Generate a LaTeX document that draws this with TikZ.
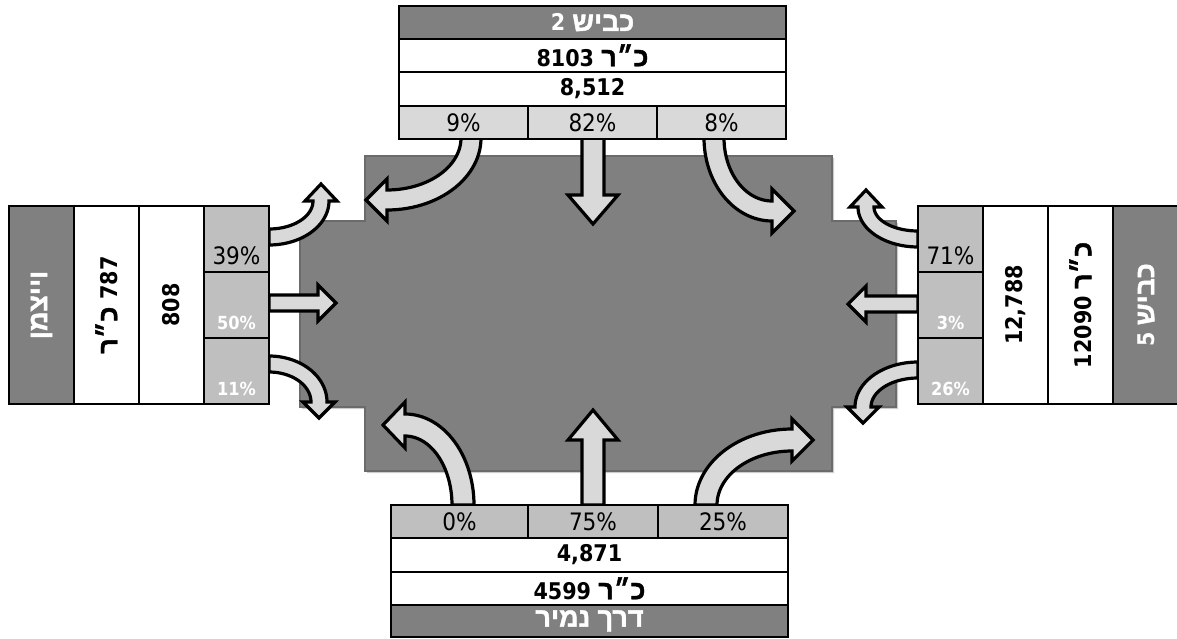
\documentclass[tikz,border=0pt]{standalone}
\usepackage{fontspec}
\setmainfont{DejaVu Sans Condensed}
\newfontfamily\hebfont[Script=Hebrew, Scale=1.17, BoldFeatures={FakeBold=1.6}]{Liberation Sans}
\TeXXeTstate=1
\usetikzlibrary{positioning}

\definecolor{roadgray}{RGB}{128,128,128}
\definecolor{pctlight}{RGB}{217,217,217}
\definecolor{pctmid}{RGB}{191,191,191}
\definecolor{flowfill}{RGB}{217,217,217}

% curved flow arrow: cx, cy, rx, ry, start angle, end angle, half shaft, half head, head length
\newcommand\turnarrow[9]{%
  \pgfmathsetmacro\tsgn{sign(#6-#5)}
  \draw[flow] plot[domain=#5:#6, samples=30, variable=\t] ({#1+(#3+#7)*cos(\t)}, {#2+(#4+#7)*sin(\t)})
    -- ({#1+(#3+#8)*cos(#6)}, {#2+(#4+#8)*sin(#6)})
    -- ({#1+#3*cos(#6)-#9*\tsgn*sin(#6)}, {#2+#4*sin(#6)+#9*\tsgn*cos(#6)})
    -- ({#1+(#3-#8)*cos(#6)}, {#2+(#4-#8)*sin(#6)})
    -- plot[domain=#6:#5, samples=30, variable=\t] ({#1+(#3-#7)*cos(\t)}, {#2+(#4-#7)*sin(\t)})
    -- cycle;
}

\begin{document}
\begin{tikzpicture}[
    x=1pt, y=-1pt,
    cell/.style={
        draw=black,
        line width=2.8pt,
        inner sep=0pt,
    },
    hdr/.style={
        cell,
        fill=roadgray,
        text=white,
        font=\bfseries\fontsize{23}{23}\selectfont,
    },
    vol/.style={
        cell,
        fill=white,
        font=\bfseries\fontsize{23}{23}\selectfont,
    },
    pct/.style={
        cell,
        fill=pctlight,
        font=\fontsize{24}{24}\selectfont,
    },
    sidepct/.style={
        cell,
        fill=pctmid,
    },
    pctdark/.style={
        inner sep=0pt,
        font=\fontsize{24}{24}\selectfont,
    },
    pctwhite/.style={
        inner sep=0pt,
        text=white,
        font=\bfseries\fontsize{18}{18}\selectfont,
    },
    flow/.style={
        fill=flowfill,
        draw=black,
        line width=3.2pt,
        line join=miter,
    },
]
    \useasboundingbox (0,0) rectangle (1177,639);

    % Junction area
    \fill[black, opacity=.2, shift={(2,2)}] (365,156) -- (832,156) -- (832,221) -- (896,221) -- (896,407)
        -- (832,407) -- (832,471) -- (365,471) -- (365,407) -- (300,407) -- (300,221) -- (365,221) -- cycle;
    \filldraw[fill=roadgray, draw=black!58, line width=1.2pt] (365,156) -- (832,156) -- (832,221) -- (896,221) -- (896,407)
        -- (832,407) -- (832,471) -- (365,471) -- (365,407) -- (300,407) -- (300,221) -- (365,221) -- cycle;

    % Turning flows
    \turnarrow{387}{138}{84}{62}{0}{90}{10}{21}{21}
    \turnarrow{772}{138}{58}{73}{180}{90}{10}{22}{22}
    \turnarrow{269}{201}{52}{36}{90}{0}{8}{16}{17}
    \turnarrow{269}{402}{50}{38}{270}{360}{8}{16}{16}
    \turnarrow{918}{207}{52}{32}{90}{180}{8}{16}{17}
    \turnarrow{918}{407}{55}{37}{270}{180}{8}{16}{16}
    \turnarrow{405}{505}{58}{80}{360}{270}{11}{23}{22}
    \turnarrow{792}{505}{86}{65}{180}{270}{11}{21}{21}

    % Through flows
    \draw[flow] (582,138) -- (582,195) -- (568,195) -- (593,224) -- (618,195) -- (604,195) -- (604,138) -- cycle;
    \draw[flow] (582,505) -- (582,440) -- (568,440) -- (593,410) -- (618,440) -- (604,440) -- (604,505) -- cycle;
    \draw[flow] (269,295) -- (318,295) -- (318,285) -- (336,303) -- (318,321) -- (318,311) -- (269,311) -- cycle;
    \draw[flow] (918,296) -- (866,296) -- (866,286) -- (848,304) -- (866,322) -- (866,312) -- (918,312) -- cycle;

    % North approach
    \node[hdr, minimum width=387pt, minimum height=33pt] (n-hdr) at (592.5,22.5) {\beginR{\hebfont כביש} \beginL 2\endL\endR};
    \node[vol, minimum width=387pt, minimum height=33pt] (n-id) at (592.5,55.5) {\beginR{\hebfont כ״ר} \beginL 8103\endL\endR};
    \node[vol, minimum width=387pt, minimum height=34pt] (n-vol) at (592.5,89) {8,512};
    \node[pct, minimum width=129pt, minimum height=33pt] (n-r) at (463.5,122.5) {9\%};
    \node[pct, minimum width=129pt, minimum height=33pt] (n-s) at (592.5,122.5) {82\%};
    \node[pct, minimum width=129pt, minimum height=33pt] (n-l) at (721.5,122.5) {8\%};

    % South approach
    \node[sidepct, font=\fontsize{24}{24}\selectfont, minimum width=137pt, minimum height=33pt] (s-l) at (459.5,521.5) {0\%};
    \node[sidepct, font=\fontsize{24}{24}\selectfont, minimum width=130pt, minimum height=33pt] (s-s) at (593,521.5) {75\%};
    \node[sidepct, font=\fontsize{24}{24}\selectfont, minimum width=130pt, minimum height=33pt] (s-r) at (723,521.5) {25\%};
    \node[vol, minimum width=397pt, minimum height=34pt] (s-vol) at (589.5,555) {4,871};
    \node[vol, minimum width=397pt, minimum height=33pt] (s-id) at (589.5,588.5) {\beginR{\hebfont כ״ר} \beginL 4599\endL\endR};
    \node[hdr, minimum width=397pt, minimum height=32pt] (s-hdr) at (589.5,621) {\beginR\hebfont דרך נמיר\endR};

    % West approach
    \node[hdr, rotate=90, minimum width=198pt, minimum height=65pt] (w-hdr) at (41.5,305) {\beginR\hebfont וייצמן\endR};
    \node[vol, rotate=90, minimum width=198pt, minimum height=65pt] (w-id) at (106.5,305) {\beginR{\hebfont כ״ר}\endR{} 787};
    \node[vol, rotate=90, minimum width=198pt, minimum height=65pt] (w-vol) at (171.5,305) {808};
    \node[sidepct, minimum width=65pt, minimum height=66pt] (w-l) at (236.5,239) {};
    \node[sidepct, minimum width=65pt, minimum height=66pt] (w-s) at (236.5,305) {};
    \node[sidepct, minimum width=65pt, minimum height=66pt] (w-r) at (236.5,371) {};
    \node[pctdark, above=8pt of w-l.south] {39\%};
    \node[pctwhite, above=9pt of w-s.south] {50\%};
    \node[pctwhite, above=9pt of w-r.south] {11\%};

    % East approach
    \node[sidepct, minimum width=65pt, minimum height=66pt] (e-r) at (950.5,239) {};
    \node[sidepct, minimum width=65pt, minimum height=66pt] (e-s) at (950.5,305) {};
    \node[sidepct, minimum width=65pt, minimum height=66pt] (e-l) at (950.5,371) {};
    \node[pctdark, above=8pt of e-r.south] {71\%};
    \node[pctwhite, above=9pt of e-s.south] {3\%};
    \node[pctwhite, above=9pt of e-l.south] {26\%};
    \node[vol, rotate=90, minimum width=198pt, minimum height=65pt] (e-vol) at (1015.5,305) {12,788};
    \node[vol, rotate=90, minimum width=198pt, minimum height=65pt] (e-id) at (1080.5,305) {\beginR{\hebfont כ״ר} \beginL 12090\endL\endR};
    \node[hdr, rotate=90, minimum width=198pt, minimum height=66pt] (e-hdr) at (1146,305) {\beginR{\hebfont כביש} \beginL 5\endL\endR};
\end{tikzpicture}
\end{document}
